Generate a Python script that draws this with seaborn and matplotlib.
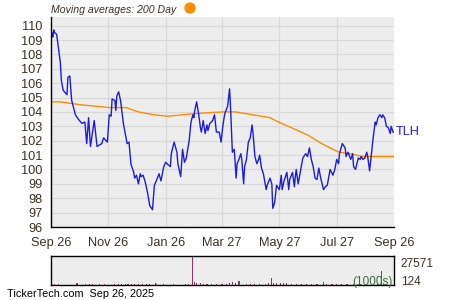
import numpy as np
import pandas as pd
import matplotlib
matplotlib.use("Agg")
import matplotlib.pyplot as plt
import matplotlib.dates as mdates
from matplotlib.patches import Ellipse
from matplotlib.ticker import FixedLocator, MultipleLocator
import seaborn as sns

# ---------------- data ----------------
start_date = "2024-09-26"
price_days = [0, 1, 2, 3, 4, 6, 10, 11, 13, 17, 18, 20, 22, 26, 29, 33, 36, 38, 40, 42,
              46, 49, 54, 56, 60, 62, 64, 65, 68, 69, 70, 72, 74, 77, 81, 83, 85, 88, 89, 91,
              93, 95, 96, 98, 100, 103, 105, 108, 110, 112, 115, 117, 120, 122, 125, 127, 128, 131, 134, 135,
              138, 140, 142, 144, 147, 149, 151, 152, 153, 155, 157, 159, 160, 162, 164, 166, 167, 169, 172, 174,
              176, 179, 181, 183, 185, 188, 190, 191, 193, 195, 197, 198, 200, 202, 203, 205, 206, 208, 210, 212,
              214, 215, 217, 219, 221, 222, 224, 226, 229, 230, 233, 235, 236, 238, 240, 243, 245, 246, 248, 251,
              253, 254, 257, 259, 260, 261, 263, 266, 268, 271, 273, 275, 277, 279, 281, 283, 285, 287, 290, 292,
              294, 297, 300, 302, 304, 306, 307, 310, 313, 314, 316, 319, 321, 322, 324, 327, 329, 330, 332, 334,
              336, 337, 339, 341, 343, 345, 346, 348, 350, 352, 353, 355, 357, 359, 361, 362, 364, 365]
price_values = [108.9, 109.5, 109.2, 109.7, 109.5, 109.4, 107.4, 106.2, 105.5, 105.2, 106.4, 106.5, 104.8, 103.8, 103.5, 103.2, 103.3, 101.8, 103.6, 101.6,
                103.4, 101.6, 101.8, 102.2, 101.9, 103.8, 103.7, 104.9, 104.8, 104.1, 105.1, 105.4, 104.8, 103.2, 101.8, 101.9, 100.4, 99.8, 99.4, 99.6,
                99.0, 99.7, 99.5, 99.6, 99.2, 98.3, 97.5, 97.2, 98.9, 99.2, 99.7, 99.2, 100.2, 100.5, 100.3, 100.2, 101.1, 101.9, 101.2, 100.4,
                99.5, 101.4, 100.5, 100.8, 102.0, 103.3, 103.8, 103.6, 104.1, 104.7, 103.9, 102.9, 102.6, 103.4, 102.5, 103.1, 102.7, 103.2, 103.4, 103.8,
                102.6, 102.6, 101.9, 103.1, 103.9, 104.4, 105.6, 104.4, 101.2, 101.4, 99.4, 100.4, 100.7, 101.1, 100.7, 99.0, 100.2, 100.7, 101.9, 102.2,
                103.1, 102.5, 100.9, 100.4, 100.7, 101.0, 100.1, 99.7, 98.6, 98.9, 99.4, 99.0, 97.3, 97.7, 98.9, 98.6, 99.6, 98.6, 99.2, 99.8,
                98.6, 99.3, 99.8, 98.8, 99.5, 100.0, 99.0, 100.1, 100.8, 101.1, 100.9, 101.5, 100.7, 100.2, 99.4, 99.3, 100.1, 99.4, 98.6, 98.8,
                98.9, 100.0, 99.6, 100.0, 100.7, 100.4, 101.1, 101.8, 101.5, 100.9, 101.2, 100.7, 101.1, 100.2, 100.0, 100.8, 100.7, 100.9, 100.7, 100.8,
                101.2, 100.9, 99.9, 101.1, 102.3, 103.3, 103.1, 103.6, 103.8, 103.6, 103.8, 103.6, 103.0, 102.9, 102.5, 103.0, 102.6, 102.6]

ma_days = [0, 10, 31, 63, 80, 93, 110, 124, 140, 156, 183, 196, 215, 233, 242, 256, 273, 288, 300, 307, 318, 332, 350, 365]
ma_values = [104.7, 104.7, 104.5, 104.3, 104.3, 104.0, 103.8, 103.7, 103.8, 103.9, 104.0, 104.0, 103.8, 103.6, 103.3, 102.9, 102.4, 101.8, 101.4, 101.2, 101.1, 100.9, 100.9, 100.9]

vol_days = [4, 8, 27, 28, 37, 41, 44, 52, 57, 68, 72, 75, 79, 82, 86, 89, 93, 97, 102, 105,
            111, 112, 120, 130, 143, 146, 151, 153, 155, 159, 162, 166, 171, 176, 182, 187, 190, 193, 196, 200,
            208, 212, 217, 222, 228, 231, 235, 237, 240, 244, 247, 251, 256, 261, 267, 272, 277, 283, 290, 293,
            299, 304, 309, 315, 322, 329, 336, 343, 348, 352, 354, 357, 361]
vol_values = [900, 900, 1500, 1500, 900, 900, 900, 700, 700, 900, 900, 900, 1300, 1300, 1300, 1300, 1300, 1100, 1300, 1000,
              1900, 1300, 900, 900, 800, 1000, 27571, 2800, 1900, 1600, 1300, 1300, 1100, 1100, 1300, 1300, 1600, 2500, 1600, 3800,
              1000, 1000, 1000, 1000, 1300, 1900, 6400, 2000, 1600, 1600, 1600, 1600, 900, 900, 900, 900, 900, 900, 3000, 1300,
              1300, 1300, 1100, 1300, 900, 900, 900, 900, 1300, 13500, 1300, 1000, 900]

tick_dates = ["2024-09-26", "2024-11-26", "2025-01-26", "2025-03-27", "2025-05-27", "2025-07-27", "2025-09-26"]
tick_labels = ["Sep 26", "Nov 26", "Jan 26", "Mar 27", "May 27", "Jul 27", "Sep 26"]
minor_dates = ["2024-10-26", "2024-12-26", "2025-02-26", "2025-04-27", "2025-06-27", "2025-08-27"]
y_ticks = list(range(96, 111))
ticker = "TLH"
title_text = "Moving averages: 200 Day"
vol_max_label = "27571"
vol_min_label = "124"
footer = "TickerTech.com  Sep 26, 2025"

# ---------------- build frames ----------------
t0 = pd.Timestamp(start_date)
price_df = pd.DataFrame({"date": t0 + pd.to_timedelta(price_days, unit="D"), "price": price_values})
ma_df = pd.DataFrame({"date": t0 + pd.to_timedelta(ma_days, unit="D"), "ma": ma_values})
vol_df = pd.DataFrame({"date": t0 + pd.to_timedelta(vol_days, unit="D"), "vol": vol_values})

sns.set_theme(style="white")
plt.rcParams["font.family"] = ["Liberation Sans", "DejaVu Sans"]
text_col = "#3a3020"
bg = "#ededed"
grid_col = "#d9d9d9"
fs = 9.2

fig = plt.figure(figsize=(4.5, 3.0), dpi=100)
fig.patch.set_facecolor("white")

ax = fig.add_axes([51 / 450, 1 - 227 / 300, 343 / 450, 210 / 300])
ax.set_facecolor(bg)

sns.lineplot(data=ma_df, x="date", y="ma", ax=ax, color="#ff8c00", linewidth=1.0, estimator=None)
sns.lineplot(data=price_df, x="date", y="price", ax=ax, color="#1c1ce0", linewidth=1.0, estimator=None)

x0 = pd.Timestamp(tick_dates[0])
x1 = pd.Timestamp(tick_dates[-1])
ax.set_xlim(x0, x1)
ax.set_ylim(96, 110.6)
ax.set_xlabel("")
ax.set_ylabel("")

ax.set_yticks(y_ticks)
ax.set_yticklabels([str(v) for v in y_ticks], fontsize=fs, color=text_col)
ax.yaxis.set_minor_locator(MultipleLocator(0.5))
xt = [mdates.date2num(pd.Timestamp(d)) for d in tick_dates]
ax.xaxis.set_major_locator(FixedLocator(xt))
ax.set_xticklabels(tick_labels, fontsize=fs, color=text_col)
ax.xaxis.set_minor_locator(FixedLocator([mdates.date2num(pd.Timestamp(d)) for d in minor_dates]))

ax.grid(True, which="major", color=grid_col, linewidth=0.9)
ax.tick_params(axis="both", which="both", direction="in", colors="black", labelcolor=text_col)
ax.tick_params(axis="y", which="major", length=3, width=0.8, pad=6)
ax.tick_params(axis="x", which="major", length=3, width=0.8, pad=7)
ax.tick_params(axis="both", which="minor", length=3, width=0.8)
for s in ["top", "right"]:
    ax.spines[s].set_visible(False)
for s in ["left", "bottom"]:
    ax.spines[s].set_color("black")
    ax.spines[s].set_linewidth(1.0)

ax.text(1.005, (price_values[-1] - 96) / 14.6, ticker, transform=ax.transAxes,
        color="#1c1ce0", fontsize=fs, va="center", ha="left")

fig.text(51 / 450, 1 - 10 / 300, title_text, fontsize=7.6, style="italic", color=text_col,
         ha="left", va="center")
fig.add_artist(Ellipse((190 / 450, 1 - 8 / 300), 10 / 450, 10 / 300,
                       transform=fig.transFigure, color="#ff8c00"))

# ---------------- volume ----------------
axv = fig.add_axes([51 / 450, 1 - 285 / 300, 343 / 450, 29 / 300])
axv.set_facecolor(bg)
axv.bar(vol_df["date"], vol_df["vol"], width=1.2, color="#993366", linewidth=0)
axv.set_xlim(x0, x1)
axv.set_ylim(0, max(vol_values))
axv.set_xticks([])
axv.set_yticks([])
for s in axv.spines.values():
    s.set_color("black")
    s.set_linewidth(1.0)
axv.text(1.02, 0.72, vol_max_label, transform=axv.transAxes, fontsize=8.5, color=text_col,
         ha="left", va="center")
axv.text(1.02, 0.12, vol_min_label, transform=axv.transAxes, fontsize=8.5, color=text_col,
         ha="left", va="center")
axv.text(0.995, 0.12, "(1000s)", transform=axv.transAxes, fontsize=8.5, color="#3d6b3d",
         ha="right", va="center")

fig.text(7 / 450, 1 - 294 / 300, footer, fontsize=7.8, color="black", ha="left", va="center")

fig.savefig("out.png", dpi=100, facecolor="white")
